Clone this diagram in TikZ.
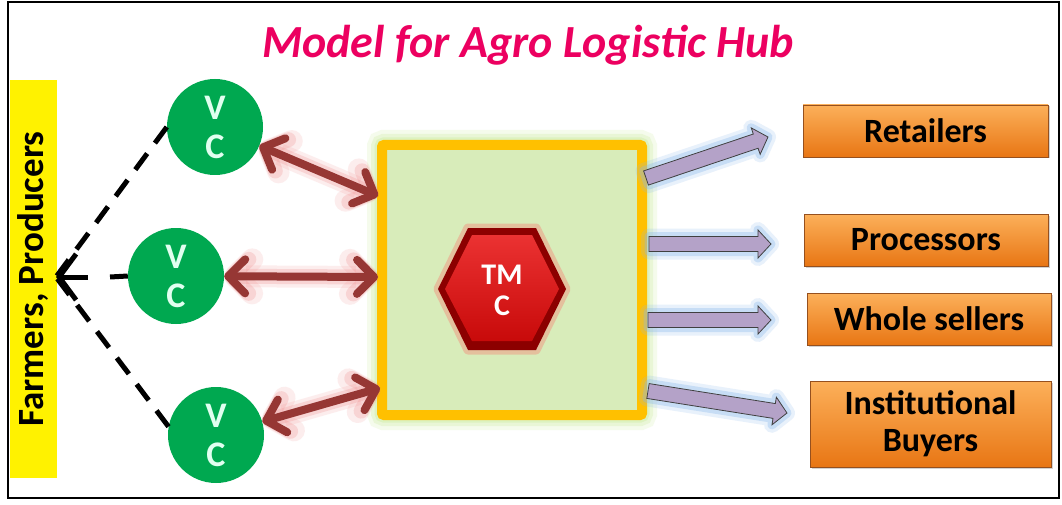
\documentclass[tikz,border=0pt]{standalone}
\usepackage{fontspec}
\setmainfont{Carlito}
\usetikzlibrary{arrows.meta,calc,shadows}
\definecolor{titlepink}{RGB}{236,0,96}
\definecolor{vcgreen}{RGB}{0,168,80}
\definecolor{vctext}{RGB}{225,255,240}
\definecolor{hubfill}{RGB}{216,236,186}
\definecolor{hubborder}{RGB}{255,192,0}
\definecolor{hubglow}{RGB}{200,235,150}
\definecolor{arrred}{RGB}{150,55,52}
\definecolor{arrglow}{RGB}{240,140,140}
\definecolor{lav}{RGB}{180,162,200}
\definecolor{blueglow}{RGB}{140,185,235}
\definecolor{orangetop}{RGB}{252,176,90}
\definecolor{orangebot}{RGB}{232,118,20}
\definecolor{orangeline}{RGB}{150,80,30}
\definecolor{hexred}{RGB}{200,10,10}
\definecolor{hexdark}{RGB}{140,0,0}
\definecolor{hexlight}{RGB}{235,50,50}
\definecolor{hexglow}{RGB}{240,150,130}

% block arrow from #1 (tail) to #2 (tip)
\newcommand\blockarr[2]{%
  \draw[blockarrow]
    ($(#1)!7.5pt!90:(#2)$)
    -- ($($(#2)!13pt!(#1)$)!7.5pt!90:(#2)$)
    -- ($($(#2)!13pt!(#1)$)!14pt!90:(#2)$)
    -- (#2)
    -- ($($(#2)!13pt!(#1)$)!14pt!-90:(#2)$)
    -- ($($(#2)!13pt!(#1)$)!7.5pt!-90:(#2)$)
    -- ($(#1)!7.5pt!-90:(#2)$) -- cycle;}

\begin{document}
\begin{tikzpicture}[x=1pt,y=-1pt,
  titletext/.style={text=titlepink, font=\fontsize{46}{48}\selectfont\bfseries\itshape},
  farmerbar/.style={fill=yellow, rotate=90, minimum width=398pt, minimum height=47pt, inner sep=0pt,
    font=\fontsize{37}{40}\selectfont\bfseries},
  vc/.style={circle, fill=vcgreen, minimum size=96pt, inner sep=0pt, align=center, text=vctext,
    font=\fontsize{36}{39}\selectfont\bfseries},
  hubbox/.style={draw=hubborder, line width=10pt, fill=hubfill, minimum width=260pt, minimum height=270pt,
    rounded corners=2pt,
    preaction={draw=hubglow, line width=30pt, opacity=.18, rounded corners=8pt},
    preaction={draw=hubglow, line width=22pt, opacity=.25, rounded corners=6pt},
    preaction={draw=hubglow, line width=15pt, opacity=.35, rounded corners=4pt}},
  tmctext/.style={text=white, align=center, font=\fontsize{30}{31}\selectfont\bfseries},
  outbox/.style={draw=orangeline, line width=0.8pt, top color=orangetop, bottom color=orangebot,
    inner sep=0pt, align=center, font=\fontsize{34}{37}\selectfont\bfseries,
    drop shadow={shadow xshift=1.5pt, shadow yshift=-1.5pt, opacity=.35}},
  redarr/.style={draw=arrred, line width=8pt,
    {Straight Barb[length=17pt,width=34pt,round]}-{Straight Barb[length=17pt,width=34pt,round]},
    preaction={draw=arrglow, line width=22pt, opacity=.15},
    preaction={draw=arrglow, line width=15pt, opacity=.25}},
  dashline/.style={draw=black, line width=5pt, dash pattern=on 20pt off 13pt},
  blockarrow/.style={fill=lav, draw=black!75, line width=0.8pt, line join=miter,
    preaction={draw=blueglow, line width=16pt, opacity=.2, line join=round},
    preaction={draw=blueglow, line width=9pt, opacity=.35, line join=round}}
]
\useasboundingbox (0,0) rectangle (1062,505);
\fill[white] (0,0) rectangle (1062,505);

% title
\node[titletext] (title) at (528,45) {Model for Agro Logistic Hub};

% farmers bar
\node[farmerbar] (farmers) at (33,279) {Farmers, Producers};

% VC circles
\node[vc] (vc1) at (215,127) {V\\C};
\node[vc] (vc2) at (176,276) {V\\C};
\node[vc] (vc3) at (216,435) {V\\C};

% dashed connectors to farmers
\coordinate (fp) at (56,277);
\coordinate (fq) at (110,277);
\coordinate (fm) at (88,277);
\draw[dashline] (vc1.west) -- (fp);
\draw[dashline] (vc3.170) -- (fp);
\draw[dashline] (vc2.west) -- (fq);
\draw[black, line width=5pt, -{Straight Barb[length=17pt,width=46pt]}] (fm) -- (fp);

% hub
\node[hubbox] (hub) at (512,280) {};

% TMC hexagon
\begin{scope}[shift={(502,289)}]
  \draw[hexglow, line width=9pt, opacity=.5, line join=round]
    (-64,0) -- (-34,-61) -- (34,-61) -- (64,0) -- (34,61) -- (-34,61) -- cycle;
  \fill[hexdark] (-64,0) -- (-34,-61) -- (34,-61) -- (64,0) -- (34,61) -- (-34,61) -- cycle;
  \shade[top color=hexlight, bottom color=hexred]
    (-57,0) -- (-30,-54) -- (30,-54) -- (57,0) -- (30,52) -- (-30,52) -- cycle;
\end{scope}
\node[tmctext] (tmc) at (502,290) {TM\\C};

% red double arrows
\coordinate (h1) at (378,196);
\coordinate (h2) at (378,277);
\coordinate (h3) at (380,388);
\draw[redarr] (vc1) -- (h1);
\draw[redarr] (vc2) -- (h2);
\draw[redarr] (vc3) -- (h3);

% output boxes
\node[outbox, minimum width=245pt, minimum height=52pt] (ret) at (925.5,131) {Retailers};
\node[outbox, minimum width=244pt, minimum height=52pt] (proc) at (926,240) {Processors};
\node[outbox, minimum width=244pt, minimum height=52pt] (whole) at (929,319) {Whole sellers};
\node[outbox, minimum width=241pt, minimum height=86pt] (inst) at (930.5,424) {Institutional\\Buyers};

% block arrows
\coordinate (t1) at (646,178); \coordinate (p1) at (768,137);
\coordinate (t2) at (649,244); \coordinate (p2) at (771,244);
\coordinate (t3) at (648,320); \coordinate (p3) at (771,320);
\coordinate (t4) at (648,391); \coordinate (p4) at (787,413);
\blockarr{t1}{p1}
\blockarr{t2}{p2}
\blockarr{t3}{p3}
\blockarr{t4}{p4}

% frame
\draw[line width=2.5pt] (8,2) rectangle (1059,498);
\end{tikzpicture}
\end{document}
